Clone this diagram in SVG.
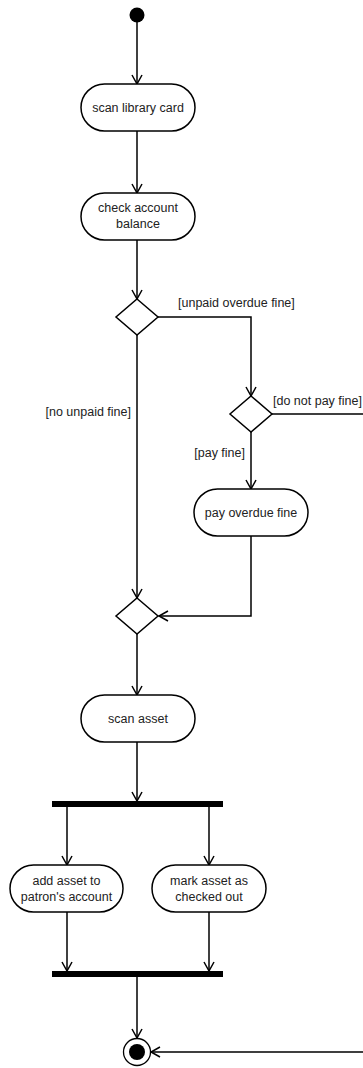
<svg xmlns="http://www.w3.org/2000/svg" width="363" height="1068" viewBox="0 0 363 1068">
<style>
.n{fill:#fff;stroke:#000;stroke-width:1.5}
.t{font-family:"Liberation Sans",Arial,sans-serif;font-size:12.5px;fill:#222;text-anchor:middle}
.l{font-family:"Liberation Sans",Arial,sans-serif;font-size:12.5px;fill:#222}
.c{fill:none;stroke:#000;stroke-width:1.5}
</style>
<defs>
<marker id="a" markerUnits="userSpaceOnUse" markerWidth="14" markerHeight="14" refX="10" refY="6" orient="auto">
<path d="M1,1 L10,6 L1,11" fill="none" stroke="#000" stroke-width="1.5"/>
</marker>
</defs>
<rect width="363" height="1068" fill="#fff"/>
<g id="connectors">
<path class="c" d="M137,22 V84" marker-end="url(#a)"/>
<path class="c" d="M137,131 V193" marker-end="url(#a)"/>
<path class="c" d="M137,240 V299" marker-end="url(#a)"/>
<path class="c" d="M158,317 H251 V396" marker-end="url(#a)"/>
<path class="c" d="M137,335 V598" marker-end="url(#a)"/>
<path class="c" d="M251,432 V489" marker-end="url(#a)"/>
<path class="c" d="M272,414 H364 V1052 H151" marker-end="url(#a)"/>
<path class="c" d="M251,536 V616 H159" marker-end="url(#a)"/>
<path class="c" d="M137,634 V695" marker-end="url(#a)"/>
<path class="c" d="M137,742 V801" marker-end="url(#a)"/>
<path class="c" d="M67,807 V865" marker-end="url(#a)"/>
<path class="c" d="M209,807 V865" marker-end="url(#a)"/>
<path class="c" d="M67,912 V971" marker-end="url(#a)"/>
<path class="c" d="M209,912 V971" marker-end="url(#a)"/>
<path class="c" d="M137,977 V1038" marker-end="url(#a)"/>
<text class="l" x="178" y="307">[unpaid overdue fine]</text>
<text class="l" x="273" y="405">[do not pay fine]</text>
<text class="l" x="131" y="416" text-anchor="end">[no unpaid fine]</text>
<text class="l" x="245" y="457" text-anchor="end">[pay fine]</text>
</g>
<g id="start"><circle cx="137" cy="15" r="7.5" fill="#000"/></g>
<g id="scanCard"><rect class="n" x="81" y="84" width="114" height="47" rx="23.5"/><text class="t" x="138" y="112">scan library card</text></g>
<g id="checkBalance"><rect class="n" x="81" y="193" width="114" height="47" rx="23.5"/><text class="t" x="138" y="212">check account</text><text class="t" x="138" y="228">balance</text></g>
<g id="decision1"><polygon class="n" points="137,299 158,317 137,335 116,317"/></g>
<g id="decision2"><polygon class="n" points="251,396 272,414 251,432 230,414"/></g>
<g id="payFine"><rect class="n" x="194" y="489" width="114" height="47" rx="23.5"/><text class="t" x="251" y="517">pay overdue fine</text></g>
<g id="merge"><polygon class="n" points="137,598 158,616 137,634 116,616"/></g>
<g id="scanAsset"><rect class="n" x="81" y="695" width="114" height="47" rx="23.5"/><text class="t" x="138" y="723">scan asset</text></g>
<g id="fork"><rect x="52" y="801" width="171" height="6" fill="#000"/></g>
<g id="addAsset"><rect class="n" x="10" y="865" width="113" height="47" rx="23.5"/><text class="t" x="66.5" y="885">add asset to</text><text class="t" x="66.5" y="901">patron's account</text></g>
<g id="markAsset"><rect class="n" x="152" y="865" width="114" height="47" rx="23.5"/><text class="t" x="209" y="885">mark asset as</text><text class="t" x="209" y="901">checked out</text></g>
<g id="join"><rect x="52" y="971" width="171" height="6" fill="#000"/></g>
<g id="end"><circle cx="137" cy="1052" r="13.5" fill="#fff" stroke="#000" stroke-width="1.3"/><circle cx="137" cy="1052" r="8" fill="#000"/></g>
</svg>
